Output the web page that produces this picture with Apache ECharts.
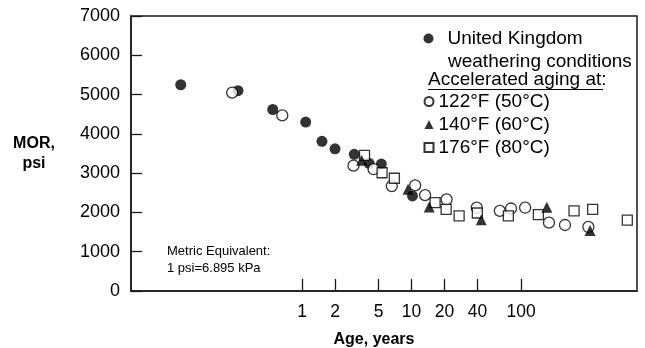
<!DOCTYPE html>
<html>
<head>
<meta charset="utf-8">
<script src="https://cdn.jsdelivr.net/npm/echarts@6/dist/echarts.min.js"></script>
<style>
  html, body { margin: 0; padding: 0; background: #fff; }
  #chart { width: 645px; height: 348px; }
</style>
</head>
<body>
<div id="chart"></div>
<script>
// Axis ticks
const ageTicks = [1, 2, 5, 10, 20, 40, 100];
const morMin = 0, morMax = 7000, morStep = 1000;

// United Kingdom weathering conditions (age in years, MOR in psi)
const ukAge = [0.078, 0.26, 0.54, 1.08, 1.52, 2.0, 3.0, 4.1, 5.3, 10.2];
const ukMor = [5250, 5100, 4620, 4300, 3810, 3620, 3480, 3250, 3230, 2420];

// Accelerated aging at 122°F (50°C)
const f122Age = [0.23, 0.66, 2.95, 4.5, 6.6, 10.8, 13.3, 20.9, 39.4, 64, 81, 109, 180, 252, 412];
const f122Mor = [5050, 4470, 3190, 3100, 2670, 2690, 2440, 2330, 2120, 2040, 2100, 2120, 1740, 1680, 1630];

// Accelerated aging at 140°F (60°C)
const f140Age = [3.5, 9.3, 14.5, 43.3, 172, 427];
const f140Mor = [3330, 2590, 2140, 1815, 2130, 1540];

// Accelerated aging at 176°F (80°C)
const f176Age = [3.72, 5.38, 6.97, 16.4, 20.7, 27.2, 39.9, 76.6, 144, 305, 451, 935];
const f176Mor = [3450, 3010, 2870, 2250, 2080, 1910, 1985, 1910, 1945, 2040, 2080, 1805];

const pairs = (xs, ys) => xs.map((x, i) => [x, ys[i]]);

const FONT = '"Liberation Sans", Arial, Helvetica, sans-serif';
const INK = '#000';

const chart = echarts.init(document.getElementById('chart'), null, { renderer: 'canvas' });

const openStyle = { color: '#fff', borderColor: INK, borderWidth: 1.3 };
const solidStyle = { color: INK };

chart.setOption({
  animation: false,
  backgroundColor: '#fff',
  grid: {
    left: 131, right: 8, top: 16, bottom: 57,
    outerBoundsMode: 'none',
    containLabel: false,
    show: true, borderColor: '#1a1a1a', borderWidth: 1.5, backgroundColor: 'transparent'
  },
  xAxis: {
    type: 'log',
    logBase: 10,
    min: 0.0274,
    max: 1146,
    name: 'Age, years',
    nameLocation: 'middle',
    nameGap: 49,
    nameTextStyle: { fontFamily: FONT, fontSize: 16, fontWeight: 'bold', color: INK,
                     verticalAlign: 'middle', padding: [0, 20, 0, 0] },
    axisLine: { show: true, lineStyle: { color: '#1a1a1a', width: 1.5 } },
    axisTick: { show: true, inside: true, length: 12, customValues: ageTicks,
                lineStyle: { color: '#1a1a1a', width: 1.3 } },
    axisLabel: { show: true, customValues: ageTicks, margin: 12,
                 fontFamily: FONT, fontSize: 17.5, color: INK,
                 formatter: v => String(Math.round(v)) },
    splitLine: { show: false },
    minorTick: { show: false }
  },
  yAxis: {
    type: 'value',
    min: morMin, max: morMax, interval: morStep,
    name: 'MOR,\npsi',
    nameLocation: 'middle',
    nameRotate: 0,
    nameGap: 97,
    nameTextStyle: { fontFamily: FONT, fontSize: 16, fontWeight: 'bold', color: INK,
                     align: 'center', verticalAlign: 'middle', lineHeight: 20,
                     padding: [6, 0, 0, 0] },
    axisLine: { show: true, lineStyle: { color: '#1a1a1a', width: 1.5 } },
    axisTick: { show: true, inside: true, length: 11, lineStyle: { color: '#1a1a1a', width: 1.3 } },
    axisLabel: { margin: 11, fontFamily: FONT, fontSize: 18, color: INK,
                 formatter: v => String(v) },
    splitLine: { show: false }
  },
  legend: [
    {
      data: ['United Kingdom'],
      left: 423.5, top: 29, padding: 0,
      itemWidth: 10, itemHeight: 10,
      textStyle: { fontFamily: FONT, fontSize: 19, color: INK, padding: [0, 0, 0, 9] },
      selectedMode: false
    },
    {
      data: ['122°F (50°C)', '140°F (60°C)', '176°F (80°C)'],
      orient: 'vertical',
      left: 423.5, top: 92, padding: 0, itemGap: 4,
      itemWidth: 9, itemHeight: 9,
      textStyle: { fontFamily: FONT, fontSize: 19, color: INK },
      selectedMode: false
    }
  ],
  graphic: [
    { type: 'text', left: 448, top: 52,
      style: { text: 'weathering conditions', font: '19px ' + FONT, fill: INK } },
    { type: 'text', left: 428, top: 70,
      style: { text: 'Accelerated aging at:', font: '19px ' + FONT, fill: INK } },
    { type: 'line', shape: { x1: 428, y1: 89.5, x2: 603, y2: 89.5 },
      style: { stroke: INK, lineWidth: 1.2 } },
    { type: 'text', left: 167, top: 243,
      style: { text: 'Metric Equivalent:\n1 psi=6.895 kPa', font: '13px ' + FONT,
               fill: INK, lineHeight: 17 } }
  ],
  series: [
    {
      name: 'United Kingdom', type: 'scatter', symbol: 'circle', symbolSize: 11,
      itemStyle: solidStyle, data: pairs(ukAge, ukMor), z: 3
    },
    {
      name: '122°F (50°C)', type: 'scatter', symbol: 'circle', symbolSize: 11,
      itemStyle: openStyle, data: pairs(f122Age, f122Mor), z: 4
    },
    {
      name: '140°F (60°C)', type: 'scatter', symbol: 'triangle', symbolSize: 11,
      itemStyle: solidStyle, data: pairs(f140Age, f140Mor), z: 5
    },
    {
      name: '176°F (80°C)', type: 'scatter', symbol: 'rect', symbolSize: 10,
      itemStyle: openStyle, data: pairs(f176Age, f176Mor), z: 4
    }
  ]
});
</script>
</body>
</html>
